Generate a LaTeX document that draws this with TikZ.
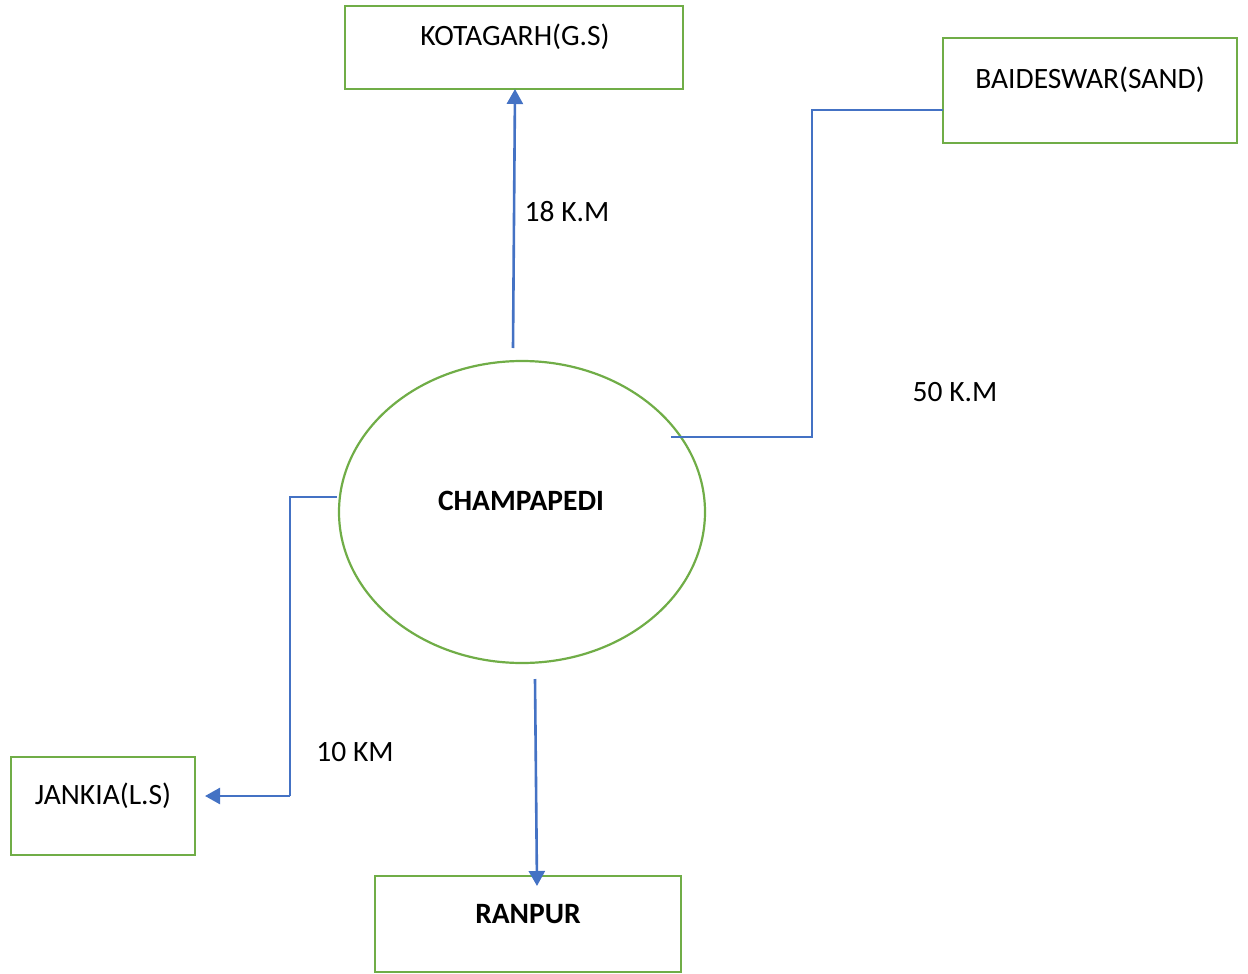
\documentclass[tikz,border=0pt]{standalone}
\usepackage{fontspec}
\setmainfont{Carlito}
\usetikzlibrary{shapes.geometric,arrows.meta}
\definecolor{bxgreen}{HTML}{70AD47}
\definecolor{lnblue}{HTML}{4472C4}
\begin{document}
\begin{tikzpicture}[x=1pt,y=-1pt,
  box/.style={draw=bxgreen,line width=2.4pt,rectangle,inner sep=0pt},
  txt/.style={font=\fontsize{29.5}{35}\selectfont,inner sep=0pt},
  btxt/.style={font=\fontsize{29.5}{35}\selectfont\bfseries,inner sep=0pt},
  arr/.style={draw=lnblue,line width=2.6pt,-{Triangle[length=15pt,width=16pt]}},
  thin/.style={draw=lnblue,line width=1.1pt}]
\useasboundingbox (0,0) rectangle (1248,974);
\node[box,minimum width=338pt,minimum height=83pt] (kot) at (514,47.5) {};
\node[txt] (kott) at (515,37) {KOTAGARH(G.S)};
\node[box,minimum width=294pt,minimum height=105pt] (bai) at (1090,90.5) {};
\node[txt] (bait) at (1090,80) {BAIDESWAR(SAND)};
\node[box,minimum width=184pt,minimum height=98pt] (jan) at (103,806) {};
\node[txt] (jant) at (103,796) {JANKIA(L.S)};
\node[box,minimum width=306pt,minimum height=96pt] (ran) at (528,924) {};
\node[btxt] (rant) at (528,914) {RANPUR};
\node[draw=bxgreen,line width=2.2pt,ellipse,minimum width=366pt,minimum height=302pt,inner sep=0pt] (cha) at (522,512) {};
\node[btxt] (chat) at (521,501) {CHAMPAPEDI};
% connectors
\coordinate (k1) at (513,348);
\coordinate (k2) at (515,89);
\draw[arr] (k1) -- (k2);
\coordinate (b1) at (943,110);
\coordinate (b2) at (812,110);
\coordinate (b3) at (812,437);
\coordinate (b4) at (671,437);
\draw[thin] (b1) -- (b2) -- (b3) -- (b4);
\coordinate (j1) at (337,497);
\coordinate (j2) at (290,497);
\coordinate (j3) at (290,796);
\coordinate (j4) at (205,796);
\draw[arr,-] (j1) -- (j2) -- (j3);
\draw[arr] (j3) -- (j4);
\coordinate (r1) at (535,679);
\coordinate (r2) at (537,886);
\draw[arr] (r1) -- (r2);
% labels
\node[txt] (l18) at (567,212) {18 K.M};
\node[txt] (l50) at (955,392) {50 K.M};
\node[txt] (l10) at (355,752) {10 KM};
\end{tikzpicture}
\end{document}
